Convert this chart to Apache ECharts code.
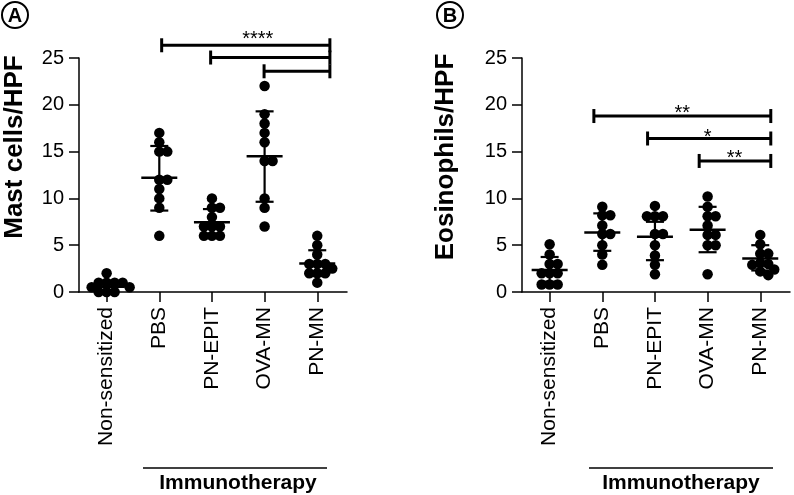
<!DOCTYPE html>
<html><head><meta charset="utf-8">
<script src="https://cdn.jsdelivr.net/npm/echarts@6/dist/echarts.min.js"></script>
<style>html,body{margin:0;padding:0;background:#fff}#c{width:794px;height:495px}</style>
</head><body><div id="c"></div>
<script>
// ---------- data ----------
const categories = ['Non-sensitized', 'PBS', 'PN-EPIT', 'OVA-MN', 'PN-MN'];
const categoryTicks = [0, 1, 2, 3, 4];
const yTicks = [0, 5, 10, 15, 20, 25];

// Panel A: Mast cells/HPF
const mastNonSensitized = [2, 1, 1, 1, 1, 0.5, 0.5, 0, 0, 0];
const mastPBS = [17, 16, 15, 15, 12, 12, 11, 10, 9, 6];
const mastPNEPIT = [10, 9, 9, 8, 7, 7, 7, 6, 6, 6];
const mastOVAMN = [22, 19, 18, 17, 16, 14, 14, 10, 9, 7];
const mastPNMN = [6, 5, 4, 3, 3, 3, 2.5, 2, 2, 2, 1];
const mastMean = [0.55, 12.2, 7.46, 14.5, 3.04];
const mastSdLow = [0.0, 8.7, 6.0, 9.64, 1.7];
const mastSdHigh = [1.2, 15.6, 8.86, 19.3, 4.46];
const mastBracketFrom = [1.045, 1.975, 2.99];
const mastBracketTo = [4.24, 4.24, 4.24];
const mastBracketY = [26.36, 25.05, 23.58];
const mastStarLabels = ['****'];
const mastStarX = [2.87];
const mastStarY = [27.5];

// Panel B: Eosinophils/HPF
const eosNonSensitized = [5.1, 4, 3, 3, 2, 2, 2, 0.8, 0.8, 0.8];
const eosPBS = [9.1, 8.2, 8.2, 7.1, 6.2, 6.2, 5, 4, 2.9];
const eosPNEPIT = [9.2, 8.1, 8.1, 8.1, 6.2, 6.2, 5, 3.9, 2.9, 1.9];
const eosOVAMN = [10.2, 9.1, 8.1, 8.1, 7.1, 6.1, 6.1, 5, 5, 1.9];
const eosPNMN = [6.1, 5.1, 4.1, 4.1, 3.1, 3.0, 2.9, 2.4, 2.2, 1.8];
const eosMean = [2.35, 6.35, 5.9, 6.65, 3.57];
const eosSdLow = [1.1, 4.4, 3.4, 4.25, 2.3];
const eosSdHigh = [3.74, 8.4, 7.5, 9.1, 5.0];
const eosBracketFrom = [0.84, 1.86, 2.84];
const eosBracketTo = [4.2, 4.2, 4.2];
const eosBracketY = [18.8, 16.4, 14.0];
const eosStarLabels = ['**', '*', '**'];
const eosStarX = [2.52, 3.0, 3.51];
const eosStarY = [19.6, 17.0, 14.8];

// ---------- layout ----------
const GRID_W = 268, GRID_H = 234, GRID_TOP = 58;
const X_MIN = -0.525, X_MAX = 4.565;
const PX_PER_CAT = GRID_W / (X_MAX - X_MIN);
const PX_PER_UNIT = GRID_H / 25;
const MIN_DIST = 8;
const FONT = 'Liberation Sans, Arial, sans-serif';

// beeswarm horizontal placement (deterministic, derived from values)
function swarm(values, idx) {
  const placed = [], out = [];
  const order = values.map((v, i) => i).sort((a, b) => values[b] - values[a]);
  for (const i of order) {
    const py = values[i] * PX_PER_UNIT;
    let best = 0;
    for (let k = 0; k < 80; k++) {
      const cands = k === 0 ? [0] : [k, -k];
      let ok = null;
      for (const c of cands) {
        if (placed.every(p => Math.hypot(p[0] - c, p[1] - py) >= MIN_DIST)) { ok = c; break; }
      }
      if (ok !== null) { best = ok; break; }
    }
    placed.push([best, py]);
    out[i] = [idx + best / PX_PER_CAT, values[i]];
  }
  return out;
}

function scatterSeries(groups, gi) {
  let pts = [];
  groups.forEach((g, i) => { pts = pts.concat(swarm(g, i)); });
  return {
    type: 'scatter', xAxisIndex: gi, yAxisIndex: gi, data: pts,
    symbol: 'circle', symbolSize: 10.5, clip: false, silent: true,
    itemStyle: { color: '#000', opacity: 1 }, z: 2
  };
}

function errSeries(mean, lo, hi, gi) {
  return {
    type: 'custom', xAxisIndex: gi, yAxisIndex: gi, silent: true, z: 3,
    data: mean.map((m, i) => [i, m, lo[i], hi[i]]),
    encode: { x: 0, y: 1 },
    renderItem: function (params, api) {
      const i = api.value(0);
      const pm = api.coord([i, api.value(1)]);
      const pl = api.coord([i, api.value(2)]);
      const ph = api.coord([i, api.value(3)]);
      const st = { stroke: '#000', lineWidth: 2.2 };
      return {
        type: 'group', children: [
          { type: 'line', shape: { x1: pm[0] - 18, y1: pm[1], x2: pm[0] + 18, y2: pm[1] }, style: { stroke: '#000', lineWidth: 2.5 } },
          { type: 'line', shape: { x1: pl[0], y1: pl[1], x2: ph[0], y2: ph[1] }, style: st },
          { type: 'line', shape: { x1: ph[0] - 9, y1: ph[1], x2: ph[0] + 9, y2: ph[1] }, style: st },
          { type: 'line', shape: { x1: pl[0] - 9, y1: pl[1], x2: pl[0] + 9, y2: pl[1] }, style: st }
        ]
      };
    }
  };
}

function bracketSeries(from, to, yv, gi) {
  return {
    type: 'custom', xAxisIndex: gi, yAxisIndex: gi, silent: true, z: 4,
    data: from.map((f, i) => [f, yv[i], to[i]]),
    encode: { x: 0, y: 1 },
    renderItem: function (params, api) {
      const a = api.coord([api.value(0), api.value(1)]);
      const b = api.coord([api.value(2), api.value(1)]);
      const st = { stroke: '#000', lineWidth: 3 };
      return {
        type: 'group', children: [
          { type: 'line', shape: { x1: a[0], y1: a[1], x2: b[0], y2: b[1] }, style: st },
          { type: 'line', shape: { x1: a[0], y1: a[1] - 7, x2: a[0], y2: a[1] + 7 }, style: st },
          { type: 'line', shape: { x1: b[0], y1: b[1] - 7, x2: b[0], y2: b[1] + 7 }, style: st }
        ]
      };
    }
  };
}

function starSeries(labels, xs, ys, gi) {
  return {
    type: 'custom', xAxisIndex: gi, yAxisIndex: gi, silent: true, z: 5,
    data: xs.map((x, i) => [x, ys[i]]),
    encode: { x: 0, y: 1 },
    renderItem: function (params, api) {
      const p = api.coord([api.value(0), api.value(1)]);
      return {
        type: 'text', x: p[0], y: p[1] + 5,
        style: { text: labels[params.dataIndex], fill: '#000', font: '20px ' + FONT, align: 'center', verticalAlign: 'middle' }
      };
    }
  };
}

function xAxisCfg(gi) {
  return {
    gridIndex: gi, type: 'value', min: X_MIN, max: X_MAX,
    axisLine: { show: true, onZero: false, lineStyle: { color: '#000', width: 1.5 } },
    axisTick: { show: true, customValues: categoryTicks, length: 10, lineStyle: { color: '#000', width: 1.5 } },
    axisLabel: {
      customValues: categoryTicks, rotate: 90, color: '#000', fontSize: 21, fontFamily: FONT, margin: 15,
      formatter: v => categories[Math.round(v)]
    },
    splitLine: { show: false }
  };
}
function yAxisCfg(gi) {
  return {
    gridIndex: gi, type: 'value', min: 0, max: 25,
    axisLine: { show: true, onZero: false, lineStyle: { color: '#000', width: 1.5 } },
    axisTick: { show: true, customValues: yTicks, length: 10, lineStyle: { color: '#000', width: 1.5 } },
    axisLabel: { customValues: yTicks, color: '#000', fontSize: 20, fontFamily: FONT, margin: 15 },
    splitLine: { show: false }
  };
}

const chart = echarts.init(document.getElementById('c'), null, { renderer: 'canvas' });
chart.setOption({
  backgroundColor: '#fff',
  animation: false,
  grid: [
    { left: 79, top: GRID_TOP, width: GRID_W, height: GRID_H },
    { left: 522, top: GRID_TOP, width: GRID_W, height: GRID_H }
  ],
  xAxis: [xAxisCfg(0), xAxisCfg(1)],
  yAxis: [yAxisCfg(0), yAxisCfg(1)],
  series: [
    scatterSeries([mastNonSensitized, mastPBS, mastPNEPIT, mastOVAMN, mastPNMN], 0),
    errSeries(mastMean, mastSdLow, mastSdHigh, 0),
    bracketSeries(mastBracketFrom, mastBracketTo, mastBracketY, 0),
    starSeries(mastStarLabels, mastStarX, mastStarY, 0),
    scatterSeries([eosNonSensitized, eosPBS, eosPNEPIT, eosOVAMN, eosPNMN], 1),
    errSeries(eosMean, eosSdLow, eosSdHigh, 1),
    bracketSeries(eosBracketFrom, eosBracketTo, eosBracketY, 1),
    starSeries(eosStarLabels, eosStarX, eosStarY, 1)
  ],
  graphic: [
    { type: 'circle', shape: { cx: 15, cy: 15, r: 13 }, style: { fill: '#fff', stroke: '#000', lineWidth: 2 } },
    { type: 'text', x: 15, y: 16, style: { text: 'A', font: 'bold 20px ' + FONT, fill: '#000', align: 'center', verticalAlign: 'middle' } },
    { type: 'circle', shape: { cx: 450, cy: 15, r: 13 }, style: { fill: '#fff', stroke: '#000', lineWidth: 2 } },
    { type: 'text', x: 450, y: 16, style: { text: 'B', font: 'bold 20px ' + FONT, fill: '#000', align: 'center', verticalAlign: 'middle' } },
    { type: 'text', x: 15, y: 147, rotation: Math.PI / 2, style: { text: 'Mast cells/HPF', font: 'bold 26px ' + FONT, fill: '#000', align: 'center', verticalAlign: 'middle' } },
    { type: 'text', x: 446, y: 157, rotation: Math.PI / 2, style: { text: 'Eosinophils/HPF', font: 'bold 26px ' + FONT, fill: '#000', align: 'center', verticalAlign: 'middle' } },
    { type: 'line', shape: { x1: 143, y1: 468, x2: 327, y2: 468 }, style: { stroke: '#000', lineWidth: 1.5 } },
    { type: 'text', x: 238, y: 483, style: { text: 'Immunotherapy', font: 'bold 21px ' + FONT, fill: '#000', align: 'center', verticalAlign: 'middle' } },
    { type: 'line', shape: { x1: 589, y1: 468, x2: 773, y2: 468 }, style: { stroke: '#000', lineWidth: 1.5 } },
    { type: 'text', x: 681, y: 483, style: { text: 'Immunotherapy', font: 'bold 21px ' + FONT, fill: '#000', align: 'center', verticalAlign: 'middle' } }
  ]
});
</script>
</body></html>
